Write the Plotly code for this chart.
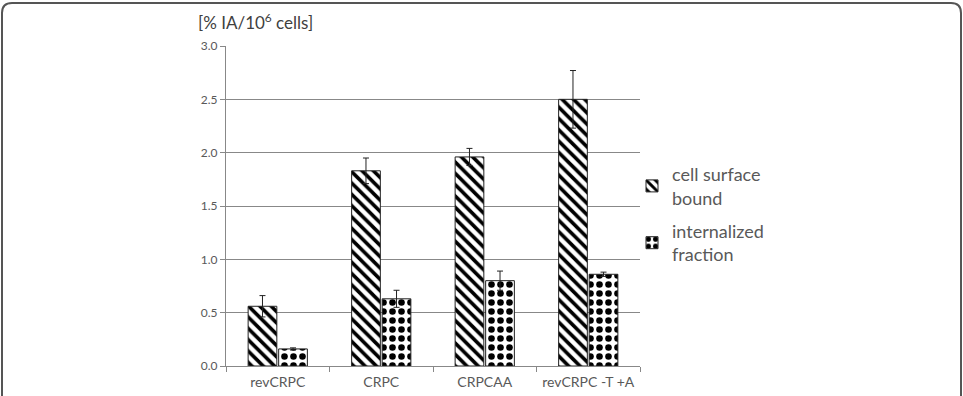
import plotly.graph_objects as go

categories = ["revCRPC", "CRPC", "CRPCAA", "revCRPC -T +A"]
surface_vals = [0.56, 1.83, 1.96, 2.50]
surface_err = [0.10, 0.12, 0.08, 0.27]
internal_vals = [0.16, 0.63, 0.80, 0.86]
internal_err = [0.01, 0.08, 0.09, 0.02]
y_ticks = [0.0, 0.5, 1.0, 1.5, 2.0, 2.5, 3.0]

W, H = 963, 396
L, R, T, B = 226, 640, 46, 366

def px(x):
    return (x - L) / (R - L)

def py(y):
    return (B - y) / (B - T)

font_fam = "Lato, 'Open Sans', sans-serif"
txt = "#595959"

fig = go.Figure()
fig.add_trace(go.Bar(
    x=categories, y=surface_vals, name="cell surface<br>bound", legendgroup="s",
    marker=dict(color="white", line=dict(color="#222", width=1),
                pattern=dict(shape="\\", fgcolor="#000", fgopacity=1, bgcolor="white",
                             size=8, solidity=0.45)),
    error_y=dict(type="data", array=surface_err, color="#222", thickness=1, width=3),
))
fig.add_trace(go.Bar(
    x=categories, y=internal_vals, name="internalized<br>fraction", legendgroup="i",
    marker=dict(color="white", line=dict(color="#222", width=1),
                pattern=dict(shape=".", fgcolor="#000", fgopacity=1, bgcolor="white",
                             size=9, solidity=0.42)),
    error_y=dict(type="data", array=internal_err, color="#222", thickness=1, width=3),
))

# rounded frame
r = 10
x0, x1, y0, y1 = 2, 961, 3, 420
path = (f"M {px(x0)},{py(y1)} L {px(x0)},{py(y0 + r)} "
        f"Q {px(x0)},{py(y0)} {px(x0 + r)},{py(y0)} "
        f"L {px(x1 - r)},{py(y0)} Q {px(x1)},{py(y0)} {px(x1)},{py(y0 + r)} "
        f"L {px(x1)},{py(y1)}")
fig.add_shape(type="path", xref="paper", yref="paper", path=path,
              line=dict(color="#555", width=2))

fig.add_annotation(text="[% IA/10<sup>6</sup> cells]", xref="paper", yref="paper",
                   x=px(196), y=py(21), xanchor="left", yanchor="middle",
                   showarrow=False, font=dict(family=font_fam, size=17, color="#404040"))

fig.update_layout(
    width=W, height=H,
    margin=dict(l=L, r=W - R, t=T, b=H - B, autoexpand=False),
    paper_bgcolor="white", plot_bgcolor="white",
    barmode="group", bargap=0.41, bargroupgap=0.06,
    font=dict(family=font_fam, color=txt),
    showlegend=True,
    legend=dict(x=px(632), y=py(156), xanchor="left", yanchor="top",
                font=dict(size=18, color=txt), itemwidth=30,
                tracegroupgap=7, bgcolor="rgba(0,0,0,0)"),
    xaxis=dict(showline=True, linecolor="#888", linewidth=1, automargin=False,
               ticks="outside", tickson="boundaries", ticklen=5, tickcolor="#888",
               ticklabelstandoff=3,
               tickfont=dict(size=14, color=txt), showgrid=False),
    yaxis=dict(range=[0, 3.0], tickvals=y_ticks, ticktext=[f"{v:.1f}" for v in y_ticks],
               showline=True, linecolor="#888", linewidth=1, automargin=False,
               ticks="outside", ticklen=5, tickcolor="#888",
               showgrid=True, gridcolor="#888", gridwidth=1,
               tickfont=dict(size=12, color=txt), zeroline=False),
)

fig.write_html("out.html")
